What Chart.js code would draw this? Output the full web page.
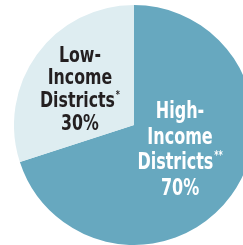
<!DOCTYPE html>
<html>
<head>
<meta charset="utf-8">
<script src="https://cdn.jsdelivr.net/npm/chart.js@4/dist/chart.umd.min.js"></script>
<style>
html,body{margin:0;padding:0;background:#fff;width:243px;height:245px;overflow:hidden;}
#wrap{position:absolute;left:14px;top:5px;width:240px;height:240px;}
</style>
</head>
<body>
<div id="wrap"><canvas id="c" width="240" height="240"></canvas></div>
<script>
const categories = ["High-Income Districts", "Low-Income Districts"];
const values = [70, 30];
const labelLines = [["High-", "Income", "Districts", "70%"], ["Low-", "Income", "Districts", "30%"]];
const labelMarks = ["**", "*"];
const colors = ["#67a8bf", "#deedf1"];
const textColors = ["#ffffff", "#231f20"];

const FAMILY = '"DejaVu Sans Condensed", "DejaVu Sans", sans-serif';

const labelPlugin = {
  id: 'sliceLabels',
  afterDatasetsDraw(chart) {
    const ctx = chart.ctx;
    const meta = chart.getDatasetMeta(0);
    const cfg = [
      {size: 23.5, lh: 25.7, dx: -2.5, dy: -42.3, refW: 76},
      {size: 22, lh: 22.7, dx: -5.5, dy: -28.2, refW: 75}
    ];
    meta.data.forEach((arc, i) => {
      const p = arc.tooltipPosition();
      const c = cfg[i];
      const lines = labelLines[i];
      ctx.save();
      ctx.fillStyle = textColors[i];
      ctx.textBaseline = 'alphabetic';
      ctx.textAlign = 'left';
      const font = `bold ${c.size}px ${FAMILY}`;
      const markFont = `bold ${Math.round(c.size * 0.5)}px ${FAMILY}`;
      ctx.font = font;
      const sx = c.refW / ctx.measureText(lines[2]).width;
      const cx = p.x + c.dx;
      ctx.translate(cx, 0);
      ctx.scale(sx, 1);
      lines.forEach((t, k) => {
        const y = p.y + c.dy + k * c.lh;
        ctx.font = font;
        const w = ctx.measureText(t).width;
        let mw = 0;
        if (k === 2) {
          ctx.font = markFont;
          mw = ctx.measureText(labelMarks[i]).width + 1;
        }
        const x0 = -(w + mw) / 2;
        ctx.font = font;
        ctx.fillText(t, x0, y);
        if (k === 2) {
          ctx.font = markFont;
          ctx.fillText(labelMarks[i], x0 + w + 1, y - c.size * 0.42);
        }
      });
      ctx.restore();
    });
  }
};

new Chart(document.getElementById('c'), {
  type: 'pie',
  data: {
    labels: categories,
    datasets: [{data: values, backgroundColor: colors, borderWidth: 0}]
  },
  options: {
    responsive: false,
    animation: false,
    layout: {padding: 0},
    plugins: {legend: {display: false}, tooltip: {enabled: false}}
  },
  plugins: [labelPlugin]
});
</script>
</body>
</html>
